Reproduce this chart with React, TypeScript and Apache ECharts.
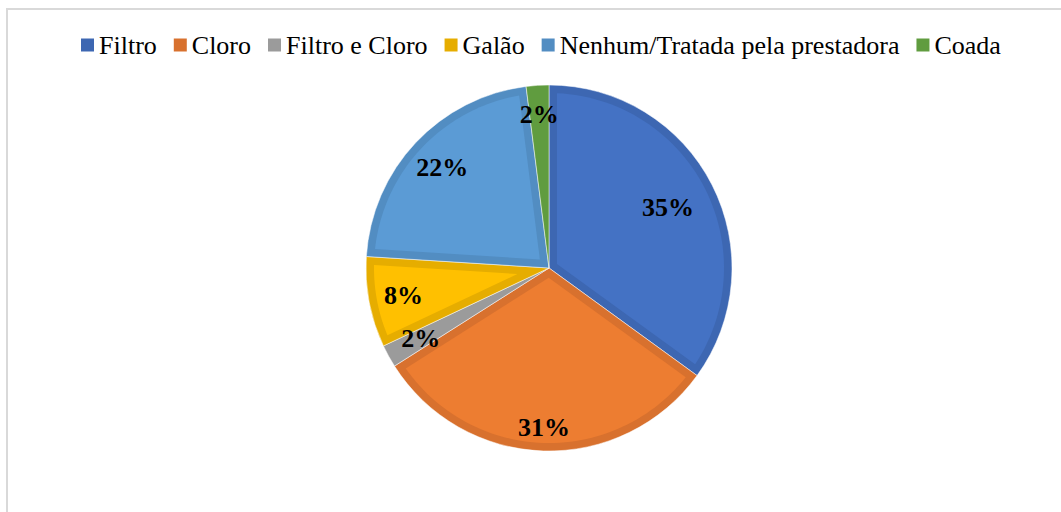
import React, { useEffect, useRef } from "react";
import * as echarts from "echarts";

const CATEGORIES = ["Filtro", "Cloro", "Filtro e Cloro", "Galão", "Nenhum/Tratada pela prestadora", "Coada"];
const VALUES = [35, 31, 2, 8, 22, 2];
const EDGE_COLORS = ["#3d67b2", "#d8712e", "#9b9b9b", "#e6ad00", "#528dc2", "#609c3f"];
const FILL_COLORS = ["#4472c4", "#ed7d31", "#9b9b9b", "#ffc000", "#5b9bd5", "#609c3f"];
const LABEL_RADIUS = [0.73, 0.87, 0.8, 0.81, 0.8, 0.84];

const CX = 549;
const CY = 268;
const R = 183;
const BAND = 8;
const FONT = "Liberation Serif";

export default function App() {
  const ref = useRef<HTMLDivElement>(null);
  useEffect(() => {
    if (!ref.current) return;
    const chart = echarts.init(ref.current, undefined, { renderer: "svg" });
    const total = VALUES.reduce((a, b) => a + b, 0);
    const starts: number[] = [];
    let acc = 0;
    VALUES.forEach((v) => {
      starts.push(acc);
      acc += v;
    });
    const pt = (phi: number, r: number) => [CX + r * Math.sin(phi), CY - r * Math.cos(phi)];

    chart.setOption({
      animation: false,
      backgroundColor: "#ffffff",
      textStyle: { fontFamily: FONT },
      legend: {
        left: 76,
        top: 27,
        itemWidth: 13,
        itemHeight: 13,
        itemGap: 17,
        icon: "rect",
        itemStyle: { borderWidth: 0 },
        textStyle: { fontFamily: FONT, fontSize: 26, color: "#000000" },
        data: CATEGORIES,
      },
      graphic: [
        {
          type: "rect",
          shape: { x: 7, y: 9, width: 1200, height: 700 },
          style: { fill: "none", stroke: "#d9d9d9", lineWidth: 2 },
          silent: true,
          z: -10,
        },
      ],
      series: [
        {
          type: "pie",
          name: "Tratamento",
          center: [CX, CY],
          radius: [0, R],
          startAngle: 90,
          clockwise: true,
          silent: true,
          label: { show: false },
          labelLine: { show: false },
          itemStyle: { borderColor: "#ffffff", borderWidth: 0.5 },
          data: CATEGORIES.map((name, i) => ({
            name,
            value: VALUES[i],
            itemStyle: { color: EDGE_COLORS[i] },
          })),
          z: 1,
        },
        {
          type: "custom",
          name: "inset",
          coordinateSystem: "none",
          silent: true,
          z: 3,
          data: VALUES.map((v, i) => [v, i]),
          renderItem: (params: any, api: any) => {
            const i = params.dataIndex;
            const v = api.value(0);
            const phi0 = (starts[i] / total) * Math.PI * 2;
            const phi1 = ((starts[i] + v) / total) * Math.PI * 2;
            const theta = phi1 - phi0;
            const mid = (phi0 + phi1) / 2;
            const children: any[] = [];
            if (FILL_COLORS[i] !== EDGE_COLORS[i]) {
              const rIn = R - BAND;
              const delta = Math.asin(BAND / rIn);
              const apexD = BAND / Math.sin(theta / 2);
              const points: number[][] = [pt(mid, apexD)];
              const a0 = phi0 + delta;
              const a1 = phi1 - delta;
              const steps = 60;
              for (let k = 0; k <= steps; k++) {
                points.push(pt(a0 + ((a1 - a0) * k) / steps, rIn));
              }
              children.push({
                type: "polygon",
                shape: { points },
                style: { fill: FILL_COLORS[i], stroke: "none" },
              });
            }
            const lp = pt(mid, LABEL_RADIUS[i] * R);
            children.push({
              type: "text",
              x: lp[0],
              y: lp[1],
              style: {
                text: `${Math.round((v / total) * 100)}%`,
                fill: "#000000",
                fontFamily: FONT,
                fontWeight: "bold",
                fontSize: 26,
                align: "center",
                verticalAlign: "middle",
              },
            });
            return { type: "group", children };
          },
        },
      ],
    });
    return () => chart.dispose();
  }, []);
  return (
    <div
      ref={ref}
      style={{ position: "fixed", left: 0, top: 0, width: 1061, height: 512, background: "#fff" }}
    />
  );
}
